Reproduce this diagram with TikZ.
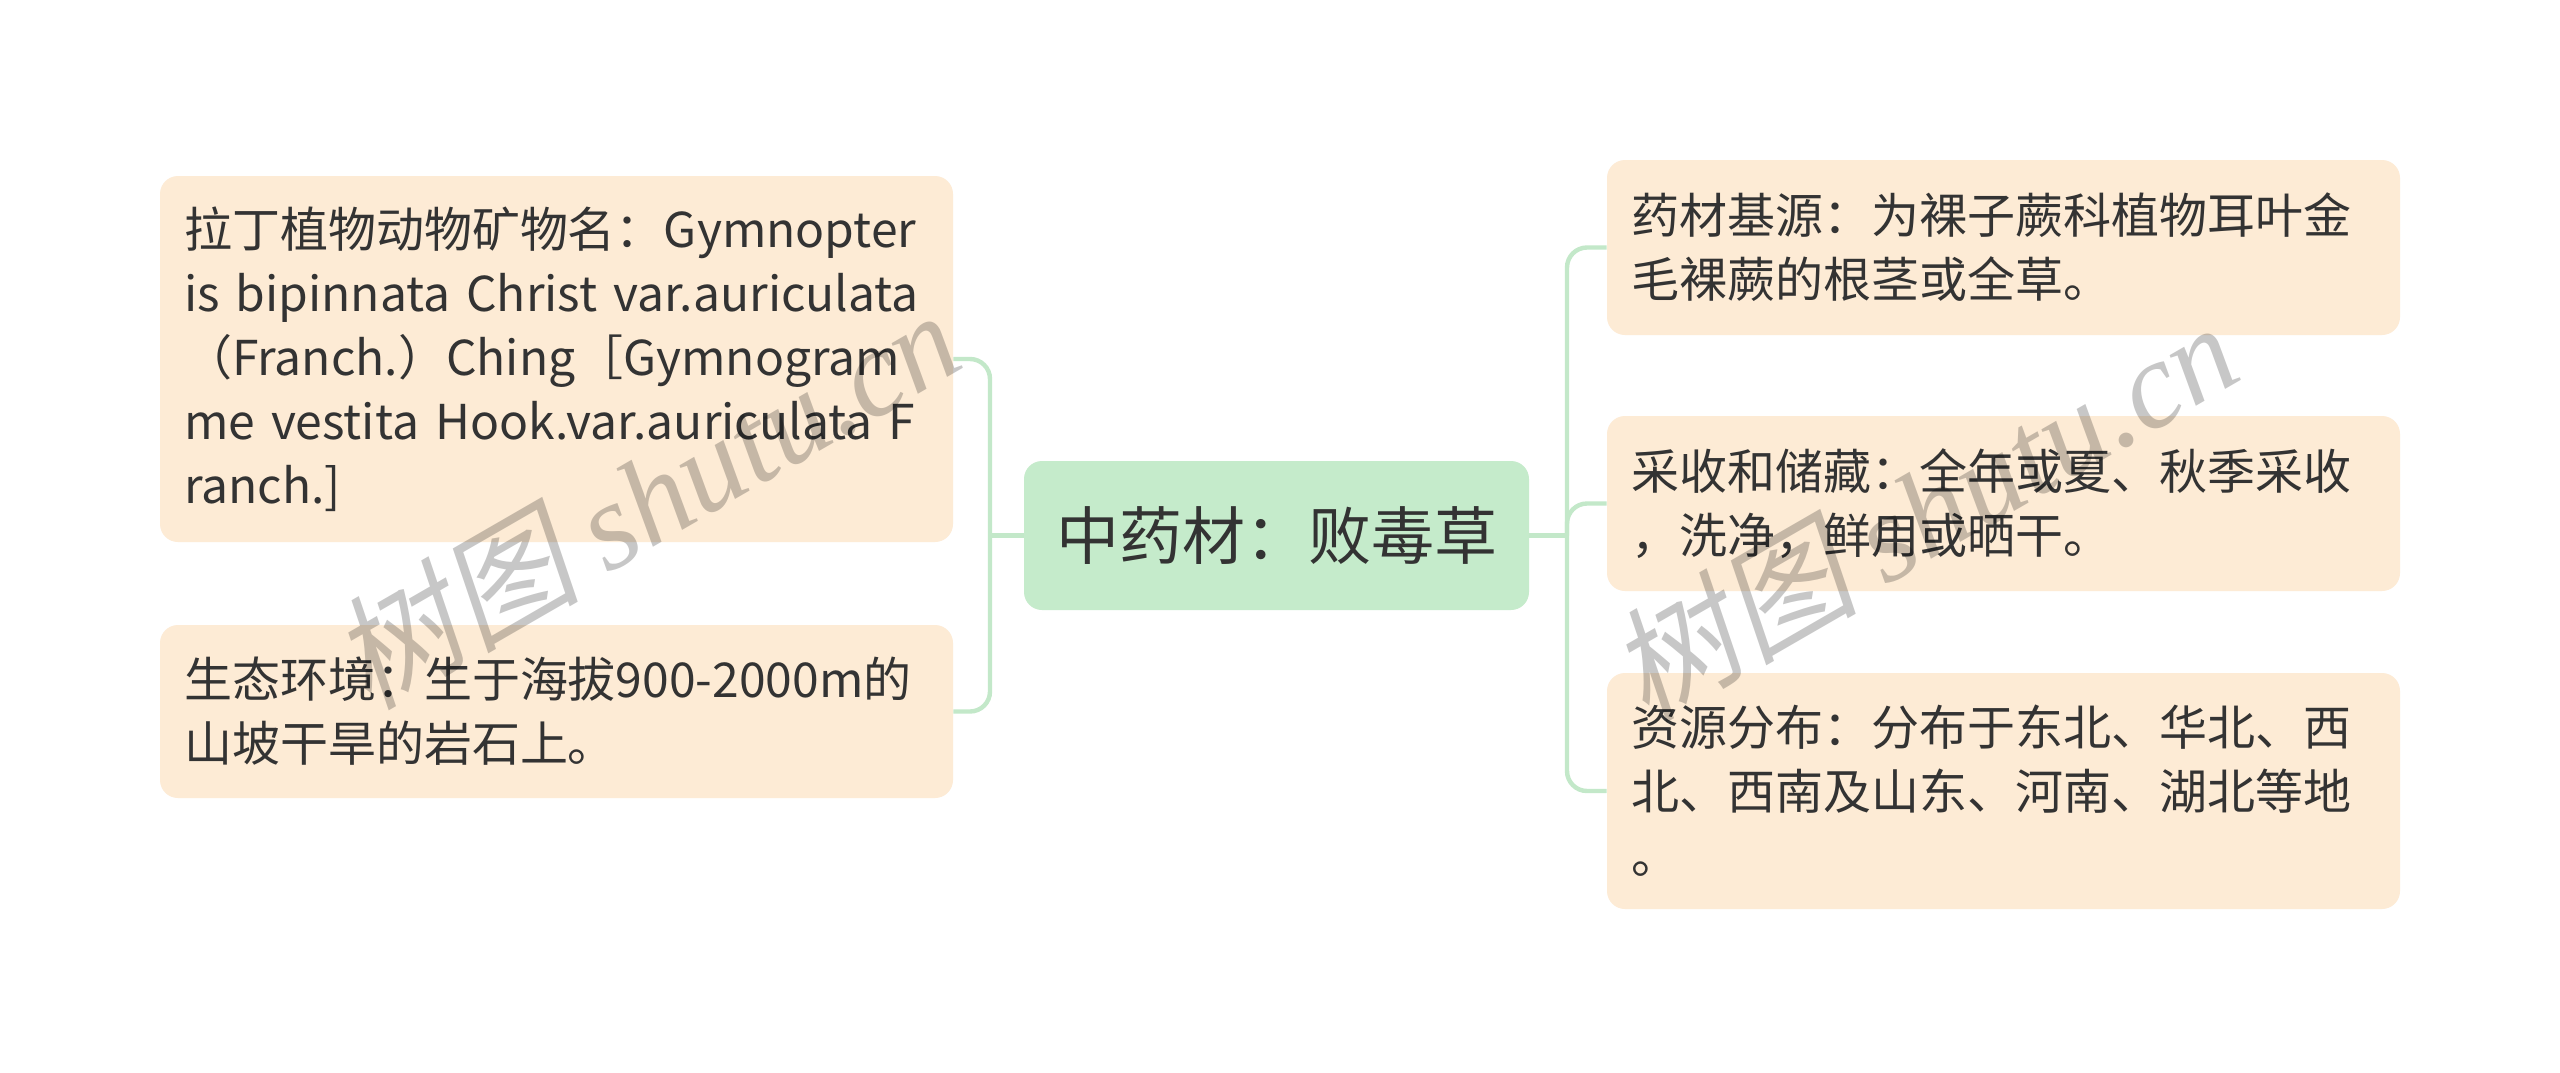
\documentclass[tikz,border=0pt]{standalone}
\usepackage{fontspec}
\setmainfont{Noto Sans CJK SC}
\newfontfamily\wmfont{Liberation Serif}
\newfontfamily\wmcjk[FakeSlant=0.2]{Noto Sans CJK SC}
\definecolor{leaffill}{HTML}{FDEBD5}
\definecolor{rootfill}{HTML}{C5EBCB}
\definecolor{linec}{HTML}{C3E8C9}
\definecolor{textc}{HTML}{333333}
\begin{document}
\begin{tikzpicture}[x=0.5pt,y=-0.5pt,
  leaf/.style={fill=leaffill, rounded corners=9pt, text width=372.5pt, inner xsep=12pt, inner ysep=0pt, align=left, font=\fontsize{24}{32}\selectfont, text=textc},
  root/.style={fill=rootfill, rounded corners=9pt, minimum width=252.5pt, minimum height=74.5pt, inner sep=0pt, font=\fontsize{31.5}{38}\selectfont, text=textc},
  conn/.style={draw=linec, line width=2.2pt, rounded corners=10pt},
  wm/.style={text=black, text opacity=0.22, font=\fontsize{62}{66}\selectfont, rotate=30}]
\useasboundingbox (0,0) rectangle (2560,1072);
\fill[white] (0,0) rectangle (2560,1072);

\node[root] (c) at (1276.5,535.5) {中药材：败毒草};

\node[leaf, minimum height=183pt] (l1) at (556.5,359) {拉丁植物动物矿物名：Gymnopter\\is bipinnata Christ var.auriculata\\（Franch.）Ching［Gymnogram\\me vestita Hook.var.auriculata F\\ranch.]};
\node[leaf, minimum height=86.5pt] (l2) at (556.5,711.5) {生态环境：生于海拔900-2000m的\\山坡干旱的岩石上。};

\node[leaf, minimum height=87.5pt] (r1) at (2003.5,247.5) {药材基源：为裸子蕨科植物耳叶金\\毛裸蕨的根茎或全草。};
\node[leaf, minimum height=87.5pt] (r2) at (2003.5,503.5) {采收和储藏：全年或夏、秋季采收\\，洗净，鲜用或晒干。};
\node[leaf, minimum height=118pt] (r3) at (2003.5,791) {资源分布：分布于东北、华北、西\\北、西南及山东、河南、湖北等地\\。};

\coordinate (lj) at (990,535.5);
\coordinate (rj) at (1567,535.5);

\draw[conn] (c.west) -- (lj);
\draw[conn] (l1.east) -| (lj) |- (l2.east);
\draw[conn] (c.east) -- (rj);
\draw[conn] (r1.west) -| (rj) |- (r3.west);
\draw[conn] (rj) |- (r2.west);

% watermarks
\node[wm] (wm1) at (645,498) {{\wmcjk 树图} {\wmfont\itshape shutu.cn}};
\node[wm] (wm2) at (1923,510) {{\wmcjk 树图} {\wmfont\itshape shutu.cn}};
\end{tikzpicture}
\end{document}
